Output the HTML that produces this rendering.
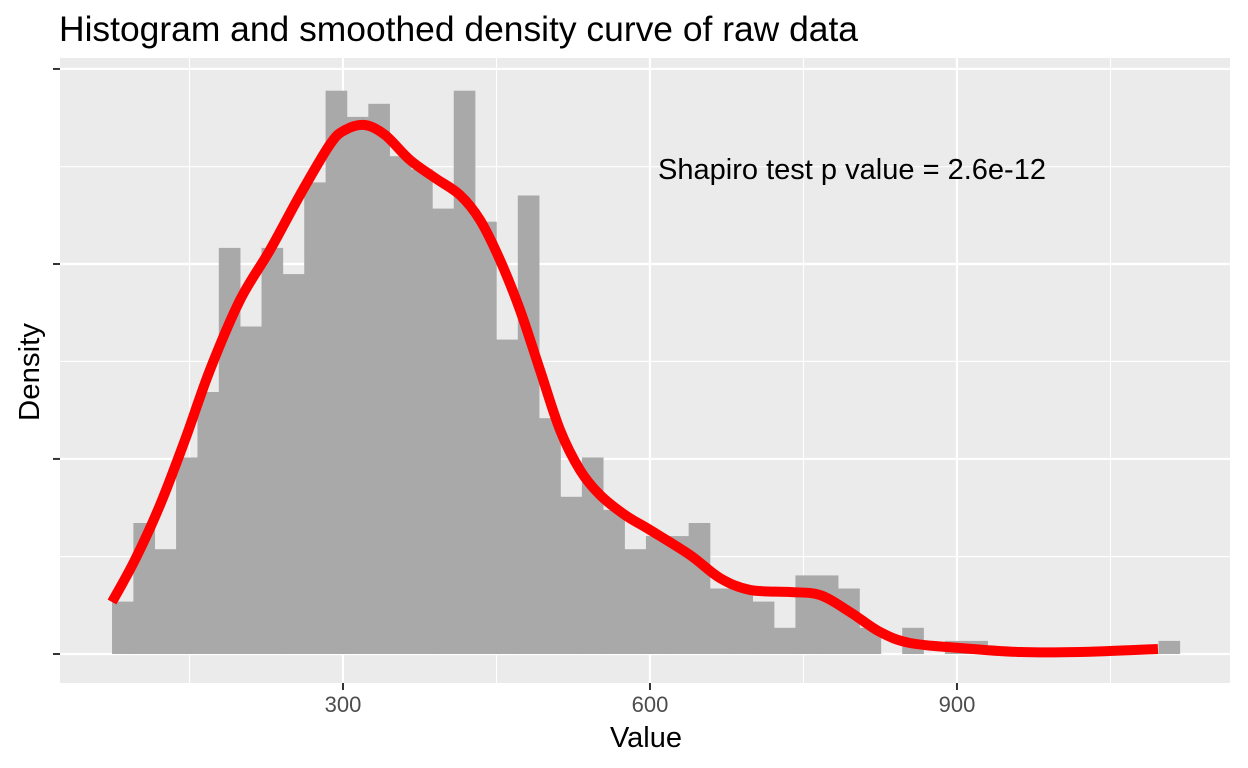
<!DOCTYPE html>
<html><head><meta charset="utf-8"><style>
html,body{margin:0;padding:0;background:#fff;}
svg{display:block;font-family:"Liberation Sans",sans-serif;}
</style></head><body>
<svg id="chart" width="1248" height="768">
<rect x="0" y="0" width="1248" height="768" fill="#fff"/>
<text x="59" y="41" font-size="35.5" fill="#000" textLength="799" lengthAdjust="spacingAndGlyphs">Histogram and smoothed density curve of raw data</text>
<rect x="60" y="58" width="1170" height="625" fill="#ebebeb"/>
<g id="grid"></g>
<g id="bars"></g>
<g id="curve"></g>
<g id="axes"></g>
<text x="658" y="179" font-size="29" fill="#000" textLength="388" lengthAdjust="spacingAndGlyphs">Shapiro test p value = 2.6e-12</text>
<text x="610" y="747" font-size="29" fill="#000" textLength="72" lengthAdjust="spacingAndGlyphs">Value</text>
<text transform="translate(39,421) rotate(-90)" font-size="29" fill="#000" textLength="98" lengthAdjust="spacingAndGlyphs">Density</text>
</svg>
<script>
const binStart = 74.3;
const binWidth = 20.87;
const counts = [4,10,8,15,20,31,25,31,29,36,43,41,42,38,37,34,43,33,24,35,18,12,15,11,8,9,9,10,5,5,4,2,6,6,5,2,0,2,0,1,1,0,0,0,0,0,0,0,0,1];
const densX = [74.3,96.7,121.2,145.6,170.0,199.4,228.7,258.0,287.3,302.0,321.5,341.1,365.5,389.9,414.3,433.9,453.4,473.0,492.5,512.1,531.6,551.2,575.6,600.0,639.1,668.4,697.7,736.8,766.1,795.4,824.8,854.1,902.9,961.6,1020.2,1096.4];
const densY = [3.97,7.18,11.37,16.34,21.68,27.02,30.84,35.04,38.9,40.0,40.38,39.62,37.71,36.34,35.04,33.13,30.08,26.26,21.68,17.1,14.05,12.14,10.61,9.47,7.56,5.8,4.89,4.73,4.5,3.21,1.68,0.84,0.46,0.15,0.15,0.38];
const xTicks = [300,600,900];
const xMinor = [150,450,750,1050];
const yMajor = [0,14.89,29.77,44.66];
const yMinor = [7.44,22.33,37.2];

const NS="http://www.w3.org/2000/svg";
const xs = v => 36 + 1.0233*v;
const ys = c => 654 - 13.1*c;
function mk(tag, attrs, parent){const e=document.createElementNS(NS,tag);for(const k in attrs)e.setAttribute(k,attrs[k]);parent.appendChild(e);return e;}
const grid=document.getElementById('grid');
yMinor.forEach(v=>{const l=mk('line',{x1:60,x2:1230,y1:ys(v),y2:ys(v),stroke:'#fff','stroke-width':1.1},grid);

});
xMinor.forEach(v=>{const l=mk('line',{x1:xs(v),x2:xs(v),y1:58,y2:683,stroke:'#fff','stroke-width':1.1},grid);

});
yMajor.forEach(v=>{const l=mk('line',{x1:60,x2:1230,y1:ys(v),y2:ys(v),stroke:'#fff','stroke-width':2.2},grid);

});
xTicks.forEach(v=>{const l=mk('line',{x1:xs(v),x2:xs(v),y1:58,y2:683,stroke:'#fff','stroke-width':2.2},grid);

});
const bars=document.getElementById('bars');
counts.forEach((c,i)=>{if(c<=0)return;const x0=xs(binStart+i*binWidth),x1=xs(binStart+(i+1)*binWidth);
const r=mk('rect',{x:x0,y:ys(c),width:x1-x0+0.3,height:ys(0)-ys(c),fill:'#a9a9a9'},bars);

});
const curve=document.getElementById('curve');
const pts=densX.map((v,i)=>[xs(v),ys(densY[i])]);
let d='M'+pts[0][0]+','+pts[0][1];
for(let i=0;i<pts.length-1;i++){const p0=pts[Math.max(0,i-1)],p1=pts[i],p2=pts[i+1],p3=pts[Math.min(pts.length-1,i+2)];
d+=' C'+(p1[0]+(p2[0]-p0[0])/6)+','+(p1[1]+(p2[1]-p0[1])/6)+' '+(p2[0]-(p3[0]-p1[0])/6)+','+(p2[1]-(p3[1]-p1[1])/6)+' '+p2[0]+','+p2[1];}
const path=mk('path',{d:d,fill:'none',stroke:'#ff0000','stroke-width':10,'stroke-linejoin':'round'},curve);


const axes=document.getElementById('axes');
yMajor.forEach(v=>{const t=mk('line',{x1:53,x2:60,y1:ys(v),y2:ys(v),stroke:'#333','stroke-width':2},axes);

});
xTicks.forEach(v=>{const t=mk('line',{x1:xs(v),x2:xs(v),y1:683,y2:690,stroke:'#333','stroke-width':2},axes);


const lb=mk('text',{x:xs(v),y:712,'font-size':22,'text-anchor':'middle',fill:'#4d4d4d'},axes);lb.textContent=v;

});
</script>
</body></html>
